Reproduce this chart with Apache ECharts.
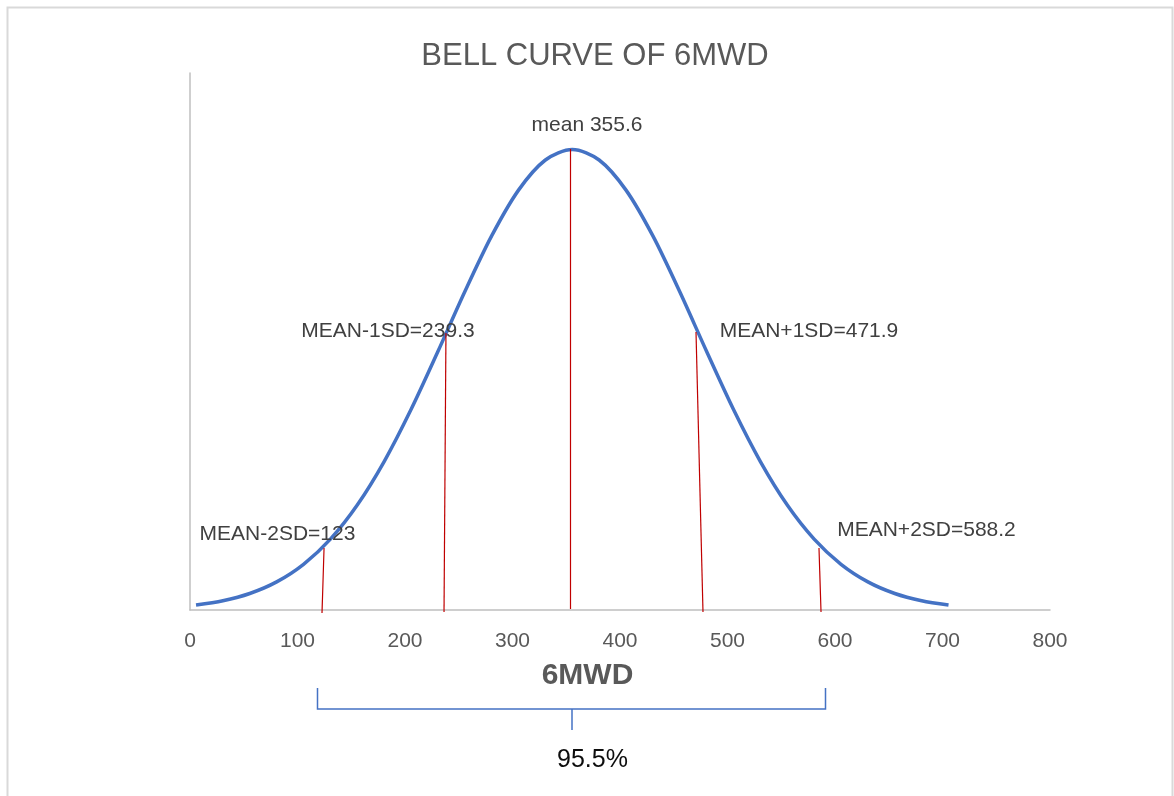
<!DOCTYPE html>
<html>
<head>
<meta charset="utf-8">
<script src="https://cdn.jsdelivr.net/npm/echarts@6/dist/echarts.min.js"></script>
<style>
html,body{margin:0;padding:0;background:#fff;}
#chart{width:1174px;height:796px;}
</style>
</head>
<body>
<div id="chart"></div>
<script>
// Bell curve of 6MWD
const curveX = [5.6,30.6,55.6,80.6,105.6,130.6,155.6,180.6,205.6,230.6,255.6,280.6,305.6,330.6,355.6,380.6,405.6,430.6,455.6,480.6,505.6,530.6,555.6,580.6,605.6,630.6,655.6,680.6,705.6];
const curveY = [0.0000370,0.0000691,0.0001231,0.0002095,0.0003404,0.0005280,0.0007820,0.0011058,0.0014932,0.0019252,0.0023702,0.0027863,0.0031275,0.0033520,0.0034303,0.0033520,0.0031275,0.0027863,0.0023702,0.0019252,0.0014932,0.0011058,0.0007820,0.0005280,0.0003404,0.0002095,0.0001231,0.0000691,0.0000370];

// Red marker lines (top point on curve, bottom point at axis)
const markTopX = [124.7, 238.1, 353.5, 470.7, 585.1];
const markTopY = [0.000462, 0.002063, 0.003434, 0.002071, 0.000462];
const markBottomX = [122.8, 236.3, 353.5, 477.2, 587.0];
const markBottomY = [-0.000022, -0.000015, 0.000008, -0.000015, -0.000015];
const markLabels = ['MEAN-2SD=123', 'MEAN-1SD=239.3', 'mean 355.6', 'MEAN+1SD=471.9', 'MEAN+2SD=588.2'];

const xTicks = [0, 100, 200, 300, 400, 500, 600, 700, 800];
const titleText = 'BELL CURVE OF 6MWD';
const axisTitle = '6MWD';
const rangeText = '95.5%';

const FONT = '"Liberation Sans", Arial, sans-serif';
const labelPos = [[277.5, 534], [388, 331.5], [587, 125], [809, 331.5], [926.5, 530.5]];

const chart = echarts.init(document.getElementById('chart'));
const option = {
  animation: false,
  backgroundColor: '#ffffff',
  title: {
    text: titleText,
    left: 590,
    top: 36,
    textAlign: 'center',
    textStyle: { fontFamily: FONT, fontSize: 31, fontWeight: 'normal', color: '#595959' }
  },
  grid: { left: 190, right: 124, top: 73, bottom: 186 },
  xAxis: {
    type: 'value',
    min: xTicks[0],
    max: xTicks[xTicks.length - 1],
    interval: 100,
    axisLine: { show: true, onZero: false, lineStyle: { color: '#bfbfbf', width: 1.5 } },
    axisTick: { show: false },
    splitLine: { show: false },
    axisLabel: { margin: 21, fontFamily: FONT, fontSize: 21, color: '#595959' }
  },
  yAxis: {
    type: 'value',
    min: 0,
    max: 0.004,
    axisLine: { show: true, lineStyle: { color: '#bfbfbf', width: 1.5 } },
    axisTick: { show: false },
    splitLine: { show: false },
    axisLabel: { show: false }
  },
  series: [
    {
      type: 'line',
      data: curveX.map((x, i) => [x, curveY[i]]),
      smooth: 0.3,
      showSymbol: false,
      clip: false,
      lineStyle: { color: '#4472c4', width: 3.5 },
      z: 3
    },
    {
      type: 'lines',
      coordinateSystem: 'cartesian2d',
      clip: false,
      lineStyle: { color: '#c00000', width: 1.2, opacity: 1 },
      data: markTopX.map((x, i) => ({ coords: [[x, markTopY[i]], [markBottomX[i], markBottomY[i]]] })),
      z: 4
    }
  ],
  graphic: [
    {
      type: 'rect', silent: true, z: 0,
      shape: { x: 7.5, y: 7.5, width: 1165, height: 800 },
      style: { fill: 'none', stroke: '#d9d9d9', lineWidth: 2 }
    },
    ...markLabels.map((t, i) => ({
      type: 'text', z: 10,
      x: labelPos[i][0], y: labelPos[i][1],
      style: { text: t, font: '21px ' + FONT, fill: '#404040', align: 'center', verticalAlign: 'middle' }
    })),
    {
      type: 'text', z: 10, x: 587.5, y: 676,
      style: { text: axisTitle, font: 'bold 30px ' + FONT, fill: '#595959', align: 'center', verticalAlign: 'middle' }
    },
    {
      type: 'polyline', z: 10,
      shape: { points: [[317.5, 688], [317.5, 709], [825.5, 709], [825.5, 688]] },
      style: { stroke: '#4472c4', lineWidth: 1.5, fill: 'none' }
    },
    {
      type: 'line', z: 10,
      shape: { x1: 572, y1: 709, x2: 572, y2: 730 },
      style: { stroke: '#4472c4', lineWidth: 1.5 }
    },
    {
      type: 'text', z: 10, x: 592.5, y: 760,
      style: { text: rangeText, font: '25px ' + FONT, fill: '#0d0d0d', align: 'center', verticalAlign: 'middle' }
    }
  ]
};
chart.setOption(option);
</script>
</body>
</html>
